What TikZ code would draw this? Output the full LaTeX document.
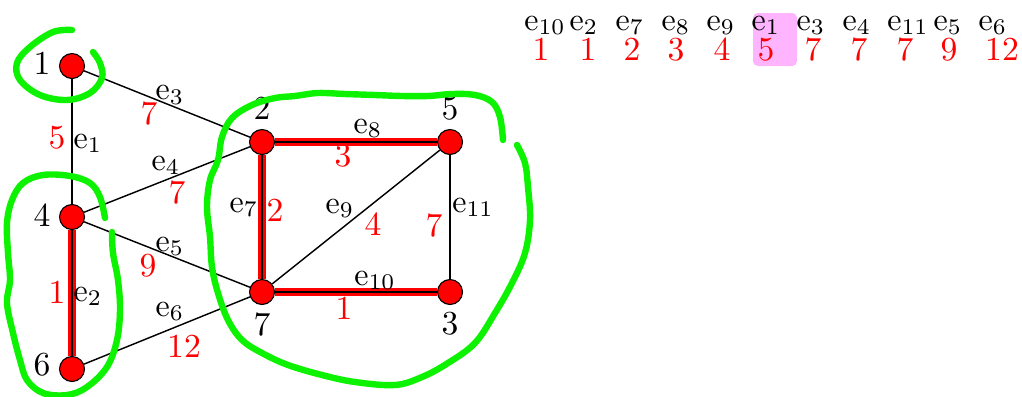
\documentclass[tikz,border=0pt]{standalone}
\usetikzlibrary{backgrounds}
\definecolor{hlgreen}{RGB}{12,242,0}
\definecolor{hlpink}{RGB}{255,180,255}
\begin{document}
\begin{tikzpicture}[x=0.3125pt,y=-0.3125pt,
  vtx/.style={circle,draw=black,fill=red,line width=0.35pt,minimum size=7.8pt,inner sep=0pt},
  vlab/.style={font=\fontsize{10.5}{12}\selectfont,inner sep=0pt},
  wlab/.style={text=red,font=\fontsize{10.5}{12}\selectfont,inner sep=0pt},
  elab/.style={font=\fontsize{10.4}{12}\selectfont,inner sep=0pt,anchor=base},
  plainedge/.style={black,line width=0.45pt},
  hotedge/.style={red,line width=2.6pt},
  hotcore/.style={black,line width=0.6pt},
  lasso/.style={hlgreen,line width=2pt,line cap=round,line join=round}
]
\useasboundingbox (0,0) rectangle (1022,396);

% vertices
\node[vtx] (v1) at (72,66) {};
\node[vtx] (v2) at (262,142) {};
\node[vtx] (v5) at (450,142) {};
\node[vtx] (v4) at (72,217) {};
\node[vtx] (v7) at (262,292) {};
\node[vtx] (v3) at (450,292) {};
\node[vtx] (v6) at (72,369) {};

% vertex labels
\node[vlab] (l1) at (42,63) {1};
\node[vlab] (l2) at (262,108) {2};
\node[vlab] (l5) at (450,109) {5};
\node[vlab] (l4) at (42,215) {4};
\node[vlab] (l6) at (42,365) {6};
\node[vlab] (l7) at (262,324) {7};
\node[vlab] (l3) at (450,324) {3};

% edges
\begin{scope}[on background layer]
  \draw[plainedge] (v1) -- (v4);
  \draw[plainedge] (v1) -- (v2);
  \draw[plainedge] (v4) -- (v2);
  \draw[plainedge] (v4) -- (v7);
  \draw[plainedge] (v6) -- (v7);
  \draw[plainedge] (v7) -- (v5);
  \draw[plainedge] (v5) -- (v3);
  \foreach \a/\b in {v4/v6, v2/v7, v2/v5, v7/v3}{
    \draw[hotedge] (\a) -- (\b);
    \draw[hotcore] (\a) -- (\b);
  }
  \fill[hlpink,rounded corners=1.5pt] (753,13) rectangle (797,66);
\end{scope}

% edge names
\node[elab] (n3) at (170,99.5) {$\mathrm{e}_{3}$};
\node[elab] (n1) at (88,148) {$\mathrm{e}_{1}$};
\node[elab] (n4) at (166,170) {$\mathrm{e}_{4}$};
\node[elab] (n5) at (170,251) {$\mathrm{e}_{5}$};
\node[elab] (n2) at (88,301) {$\mathrm{e}_{2}$};
\node[elab] (n6) at (170,316) {$\mathrm{e}_{6}$};
\node[elab] (n7) at (244,212) {$\mathrm{e}_{7}$};
\node[elab] (n8) at (368,133) {$\mathrm{e}_{8}$};
\node[elab] (n9) at (340,213) {$\mathrm{e}_{9}$};
\node[elab] (n10) at (375,285) {$\mathrm{e}_{10}$};
\node[elab] (n11) at (473,212) {$\mathrm{e}_{11}$};

% edge weights
\node[wlab] (w3) at (149,114) {7};
\node[wlab] (w1) at (57,138) {5};
\node[wlab] (w4) at (177,193) {7};
\node[wlab] (w5) at (148,266) {9};
\node[wlab] (w2) at (57,292) {1};
\node[wlab] (w6) at (184,346) {12};
\node[wlab] (w7) at (275,210) {2};
\node[wlab] (w8) at (343,156) {3};
\node[wlab] (w9) at (373,224) {4};
\node[wlab] (w11) at (434,226) {7};
\node[wlab] (w10) at (344,308) {1};

% sorted table
\foreach \x/\e/\dx/\w [count=\i] in {545/10/541/1, 584/2/588/1, 630/7/632/2, 676/8/676/3, 721/9/722/4, 766/1/766/5, 811/3/813/7, 857/4/859/7, 908/11/905/7, 948/5/949/9, 993/6/1002/12}{
  \node[elab] (te\i) at (\x,30) {$\mathrm{e}_{\e}$};
  \node[wlab,anchor=base] (tw\i) at (\dx,60) {\w};
}

% green lassos
\draw[lasso] plot[smooth,tension=0.6] coordinates {
  (72,30) (53,32) (30,47) (17,63) (20,80) (40,95) (67,100) (90,93) (102,78) (100,63) (93,52)};
\draw[lasso] plot[smooth,tension=0.6] coordinates {
  (105,218) (100,197) (90,183) (70,176) (43,175) (23,183) (12,200) (7,223) (8,253) (10,280)
  (7,303) (13,333) (20,360) (27,380) (43,393) (67,395) (87,387) (107,367) (117,340) (120,310)
  (118,280) (113,253) (112,232)};
\draw[lasso] plot[smooth,tension=0.6] coordinates {
  (503,140) (500,117) (492,102) (475,95) (452,94) (428,96) (402,96) (375,95) (345,94) (318,93)
  (295,96) (275,98) (252,105) (232,118) (222,137) (218,160) (210,180) (207,207) (210,237)
  (212,267) (218,293) (228,320) (242,340) (262,353) (288,365) (322,375) (355,382) (395,385)
  (422,377) (448,363) (475,343) (495,313) (512,283) (525,253) (530,220) (528,187) (525,163)
  (517,145)};
\end{tikzpicture}
\end{document}
